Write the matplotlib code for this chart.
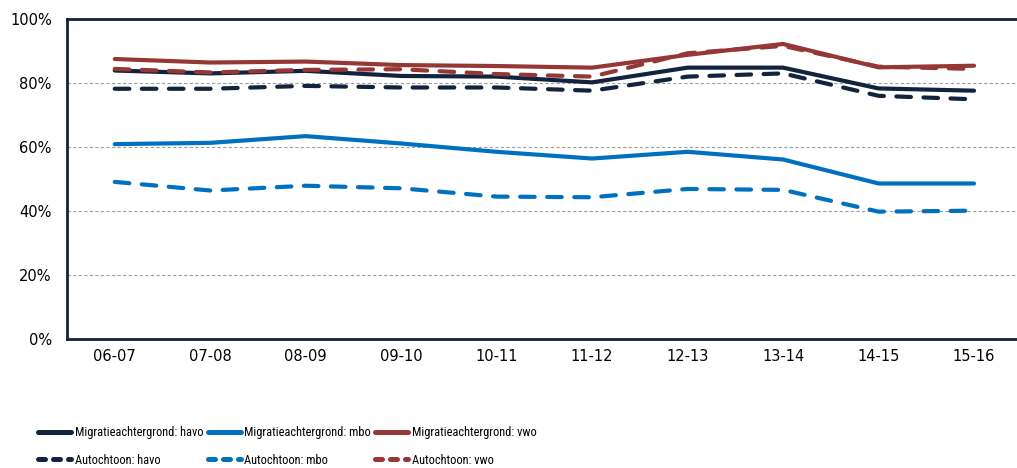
import matplotlib.pyplot as plt
from matplotlib import font_manager
from matplotlib.lines import Line2D
import numpy as np

# school years
years = ['06-07', '07-08', '08-09', '09-10', '10-11', '11-12', '12-13', '13-14', '14-15', '15-16']

# percentages per group
mig_havo = [83.9, 83.0, 83.8, 82.2, 82.0, 80.2, 84.8, 84.8, 78.3, 77.6]
mig_mbo = [60.9, 61.3, 63.4, 61.1, 58.5, 56.4, 58.5, 56.1, 48.6, 48.6]
mig_vwo = [87.5, 86.4, 86.7, 85.6, 85.3, 84.8, 88.8, 92.2, 84.9, 85.4]
aut_havo = [78.2, 78.2, 79.1, 78.6, 78.6, 77.6, 82.0, 83.0, 76.0, 74.9]
aut_mbo = [49.1, 46.4, 47.9, 47.1, 44.5, 44.3, 46.9, 46.6, 39.8, 40.1]
aut_vwo = [84.4, 83.3, 84.1, 84.3, 82.8, 82.0, 89.3, 91.6, 85.1, 84.4]

navy = '#12233d'
blue = '#0070c0'
red = '#953735'

# narrow font for the legend if there is one
installed = {f.name for f in font_manager.fontManager.ttflist}
if 'Roboto Condensed' in installed:
    leg_prop = font_manager.FontProperties(family='Roboto Condensed')
else:
    leg_prop = font_manager.FontProperties(family='DejaVu Sans', stretch='condensed')

fig = plt.figure(figsize=(10.17, 4.68), dpi=100)
ax = fig.add_axes([0.0659, 0.2756, 0.9341, 0.6838])

x = np.arange(len(years))
lw = 3.0
dash = (3.5, 3.0)

ax.plot(x, mig_havo, color=navy, lw=lw, solid_capstyle='round')
ax.plot(x, mig_mbo, color=blue, lw=lw, solid_capstyle='round')
ax.plot(x, mig_vwo, color=red, lw=lw, solid_capstyle='round')
ax.plot(x, aut_havo, color=navy, lw=lw, dashes=dash, dash_capstyle='round')
ax.plot(x, aut_mbo, color=blue, lw=lw, dashes=dash, dash_capstyle='round')
ax.plot(x, aut_vwo, color=red, lw=lw, dashes=dash, dash_capstyle='round')

ax.set_xlim(-0.5, 9.45)
ax.set_ylim(0, 100)
ax.set_xticks(x)
ax.set_xticklabels(years)
ax.set_yticks([0, 20, 40, 60, 80, 100])
ax.set_yticklabels(['0%', '20%', '40%', '60%', '80%', '100%'])
ax.tick_params(length=0, labelsize=10.5, colors='black')
ax.tick_params(axis='y', pad=11)
ax.tick_params(axis='x', pad=7)

for g in [20, 40, 60, 80]:
    ax.axhline(g, color='#a0a0a0', lw=0.8, ls=(0, (3, 2)), zorder=0)

for s in ['left', 'top', 'bottom']:
    ax.spines[s].set_color(navy)
    ax.spines[s].set_linewidth(2)
ax.spines['right'].set_visible(False)

# size the legend font so the longest label is ~128 px wide
leg_prop.set_size(10)
probe = fig.text(0, 0, 'Migratieachtergrond: havo', fontproperties=leg_prop)
fig.canvas.draw()
w10 = probe.get_window_extent().width
probe.remove()
fs = min(11, 10 * 128 / w10)
leg_prop.set_size(fs)
fs_px = fs * 100 / 72

# legend handles: solid and short round dashes, column-major order
handles = []
labels = []
for c, grp in [(navy, 'havo'), (blue, 'mbo'), (red, 'vwo')]:
    handles.append(Line2D([], [], color=c, lw=3.6, solid_capstyle='round'))
    labels.append('Migratieachtergrond: ' + grp)
    handles.append(Line2D([], [], color=c, lw=3.6, dashes=(1.4, 1.6), dash_capstyle='round'))
    labels.append('Autochtoon: ' + grp)

fig.legend(handles=handles, labels=labels, ncol=3,
           loc='center left', bbox_to_anchor=(38 / 1017, 1 - 446.5 / 468), frameon=False,
           prop=leg_prop, handlelength=33 / fs_px, handletextpad=4 / fs_px,
           columnspacing=4 / fs_px, labelspacing=(29 - 1.2 * fs_px) / fs_px,
           borderpad=0, borderaxespad=0)

fig.savefig('out.png', dpi=100)
